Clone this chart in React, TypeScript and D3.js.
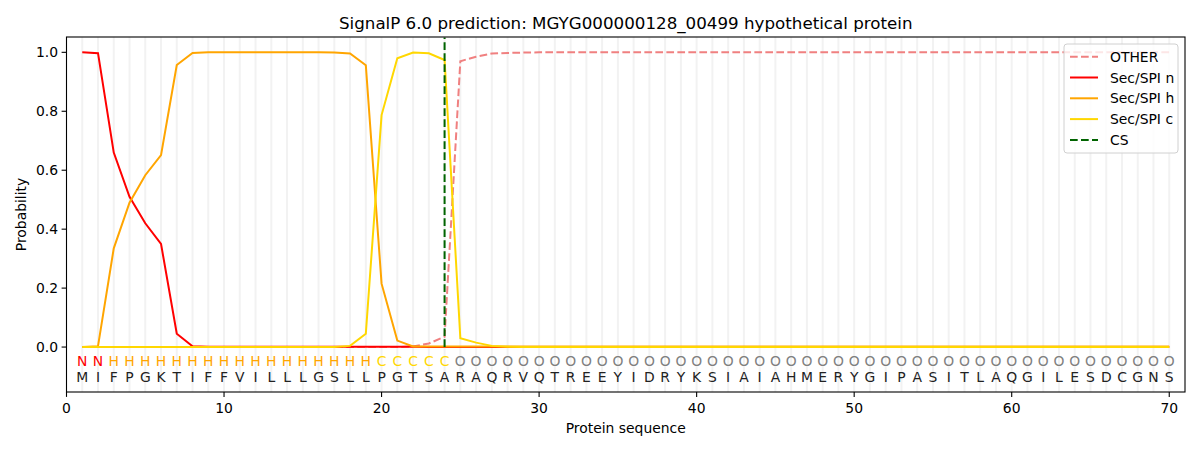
import * as d3 from "d3";

// SignalP 6.0 output for MGYG000000128_00499, one value per residue (rows of 10)
const sequence = "MIFPGKTIFFVILLLGSLLPGTSARAQRVQTREEYIDRYKSIAIAHMERYGIPASITLAQGILESDCGNS".split("");
const regionLabels = "NNHHHHHHHHHHHHHHHHHCCCCCOOOOOOOOOOOOOOOOOOOOOOOOOOOOOOOOOOOOOOOOOOOOOO".split("");

const other = [
  0, 0, 0, 0, 0, 0, 0, 0, 0, 0,
  0, 0, 0, 0, 0, 0, 0, 0, 0, 0,
  0, 0.002, 0.012, 0.035, 0.97, 0.985, 0.996, 0.998, 0.999, 1,
  1, 1, 1, 1, 1, 1, 1, 1, 1, 1,
  1, 1, 1, 1, 1, 1, 1, 1, 1, 1,
  1, 1, 1, 1, 1, 1, 1, 1, 1, 1,
  1, 1, 1, 1, 1, 1, 1, 1, 1, 1,
];
const secN = [
  1.0, 0.997, 0.66, 0.51, 0.42, 0.35, 0.045, 0.003, 0.001, 0.001,
  0.001, 0.001, 0.001, 0.001, 0.001, 0.001, 0.001, 0.001, 0.001, 0.001,
  0.001, 0.001, 0, 0, 0, 0, 0, 0, 0, 0,
  0, 0, 0, 0, 0, 0, 0, 0, 0, 0,
  0, 0, 0, 0, 0, 0, 0, 0, 0, 0,
  0, 0, 0, 0, 0, 0, 0, 0, 0, 0,
  0, 0, 0, 0, 0, 0, 0, 0, 0, 0,
];
const secH = [
  0, 0.003, 0.335, 0.49, 0.583, 0.651, 0.957, 0.998, 1, 1,
  1, 1, 1, 1, 1, 1, 0.999, 0.996, 0.956, 0.215,
  0.022, 0.002, 0.002, 0.002, 0.002, 0.002, 0.002, 0.002, 0.002, 0.002,
  0.002, 0.002, 0.002, 0.002, 0.002, 0.002, 0.002, 0.002, 0.002, 0.002,
  0.002, 0.002, 0.002, 0.002, 0.002, 0.002, 0.002, 0.002, 0.002, 0.002,
  0.002, 0.002, 0.002, 0.002, 0.002, 0.002, 0.002, 0.002, 0.002, 0.002,
  0.002, 0.002, 0.002, 0.002, 0.002, 0.002, 0.002, 0.002, 0.002, 0.002,
];
const secC = [
  0, 0, 0, 0, 0, 0, 0, 0, 0, 0,
  0, 0, 0, 0, 0, 0, 0, 0.004, 0.045, 0.787,
  0.98, 0.999, 0.997, 0.974, 0.03, 0.015, 0.004, 0.001, 0, 0,
  0, 0, 0, 0, 0, 0, 0, 0, 0, 0,
  0, 0, 0, 0, 0, 0, 0, 0, 0, 0,
  0, 0, 0, 0, 0, 0, 0, 0, 0, 0,
  0, 0, 0, 0, 0, 0, 0, 0, 0, 0,
];
const cleavageSite = 24;

const xTicks = [0, 10, 20, 30, 40, 50, 60, 70];
const yTicks = [0, 0.2, 0.4, 0.6, 0.8, 1.0];

const series = [
  { name: "OTHER", values: other, color: "#f08080", dash: "7.7,3.3" },
  { name: "Sec/SPI n", values: secN, color: "red", dash: null },
  { name: "Sec/SPI h", values: secH, color: "orange", dash: null },
  { name: "Sec/SPI c", values: secC, color: "gold", dash: null },
];

const regionColor: Record<string, string> = { N: "red", H: "orange", C: "gold", O: "gray" };

const W = 1200;
const H = 450;
const margin = { left: 66.5, right: 15, top: 37, bottom: 58 };
const font = "DejaVu Sans, sans-serif";

export default function App() {
  const x = d3.scaleLinear().domain([0, 71]).range([margin.left, W - margin.right]);
  const y = d3.scaleLinear().domain([-0.1525, 1.052]).range([H - margin.bottom, margin.top]);

  const line = d3
    .line<number>()
    .x((_, i) => x(i + 1))
    .y((d) => y(d));

  const positions = sequence.map((_, i) => i + 1);
  const legendX = 1064;
  const legendY = 44;

  return (
    <svg width={W} height={H} style={{ position: "absolute", left: 0, top: 0, background: "white" }} fontFamily={font}>
      <rect width={W} height={H} fill="white" />
      <text x={x(35.5)} y={23} textAnchor="middle" dominantBaseline="central" fontSize={16.7}>
        SignalP 6.0 prediction: MGYG000000128_00499 hypothetical protein
      </text>

      {positions.map((p) => (
        <line key={p} x1={x(p)} x2={x(p)} y1={margin.top} y2={H - margin.bottom} stroke="#f2f2f2" strokeWidth={2} />
      ))}

      {series.map((s) => (
        <path
          key={s.name}
          d={line(s.values) ?? ""}
          fill="none"
          stroke={s.color}
          strokeWidth={2}
          strokeDasharray={s.dash ?? undefined}
        />
      ))}

      <line
        x1={x(cleavageSite)}
        x2={x(cleavageSite)}
        y1={y(0)}
        y2={y(1.05)}
        stroke="#006400"
        strokeWidth={2}
        strokeDasharray="7.7,3.3"
      />

      {regionLabels.map((r, i) => (
        <text key={i} x={x(i + 1)} y={y(-0.047)} textAnchor="middle" dominantBaseline="central" fontSize={13.9} fill={regionColor[r]}>
          {r}
        </text>
      ))}
      {sequence.map((a, i) => (
        <text key={i} x={x(i + 1)} y={y(-0.1)} textAnchor="middle" dominantBaseline="central" fontSize={13.9} fill="#222">
          {a}
        </text>
      ))}

      <rect
        x={margin.left}
        y={margin.top}
        width={W - margin.right - margin.left}
        height={H - margin.bottom - margin.top}
        fill="none"
        stroke="black"
        strokeWidth={1.1}
      />

      {xTicks.map((t) => (
        <g key={t}>
          <line x1={x(t)} x2={x(t)} y1={H - margin.bottom} y2={H - margin.bottom + 4.9} stroke="black" strokeWidth={1.1} />
          <text x={x(t)} y={407.5} textAnchor="middle" dominantBaseline="central" fontSize={13.9}>
            {t}
          </text>
        </g>
      ))}
      {yTicks.map((t) => (
        <g key={t}>
          <line x1={margin.left - 4.9} x2={margin.left} y1={y(t)} y2={y(t)} stroke="black" strokeWidth={1.1} />
          <text x={margin.left - 8.5} y={y(t)} textAnchor="end" dominantBaseline="central" fontSize={13.9}>
            {t.toFixed(1)}
          </text>
        </g>
      ))}
      <text x={x(35.5)} y={428} textAnchor="middle" dominantBaseline="central" fontSize={13.9}>
        Protein sequence
      </text>
      <text
        transform={`translate(21,${(margin.top + H - margin.bottom) / 2}) rotate(-90)`}
        textAnchor="middle"
        dominantBaseline="central"
        fontSize={13.9}
      >
        Probability
      </text>

      <g>
        <rect x={legendX} y={legendY} width={114} height={109} rx={3} fill="white" fillOpacity={0.8} stroke="#d0d0d0" strokeWidth={1} />
        {[...series, { name: "CS", values: [], color: "#006400", dash: "7.7,3.3" }].map((s, i) => {
          const ly = 56.7 + i * 20.8;
          return (
            <g key={s.name}>
              <line x1={1070} x2={1098} y1={ly} y2={ly} stroke={s.color} strokeWidth={2} strokeDasharray={s.dash ?? undefined} />
              <text x={1110} y={ly} dominantBaseline="central" fontSize={13.9}>
                {s.name}
              </text>
            </g>
          );
        })}
      </g>
    </svg>
  );
}
